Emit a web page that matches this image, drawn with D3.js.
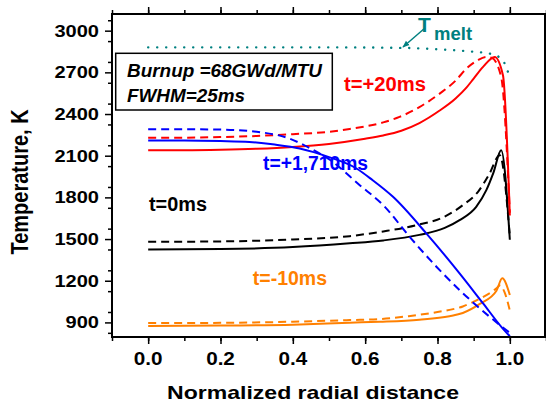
<!DOCTYPE html>
<html><head><meta charset="utf-8">
<script src="https://cdn.jsdelivr.net/npm/d3@7"></script>
<style>
html,body{margin:0;padding:0;background:#fff;}
svg{display:block;}
text{font-family:"Liberation Sans",Arial,Helvetica,sans-serif;font-weight:bold;}
</style></head>
<body>
<svg id="chart" width="546" height="403"></svg>
<script>
// ---------------- data ----------------
const xTicks = [0.0, 0.2, 0.4, 0.6, 0.8, 1.0];
const xTickLabels = ["0.0", "0.2", "0.4", "0.6", "0.8", "1.0"];
const yTicks = [900, 1200, 1500, 1800, 2100, 2400, 2700, 3000];
const yTickLabels = ["900", "1200", "1500", "1800", "2100", "2400", "2700", "3000"];

// t = +20 ms (red)
const plus20SolidR = [0, 0.1, 0.2, 0.3, 0.4, 0.5, 0.6, 0.65, 0.7, 0.75, 0.806, 0.85, 0.88, 0.9, 0.926, 0.958, 0.981, 1.0];
const plus20SolidT = [2140, 2140, 2143, 2150, 2163, 2185, 2222, 2246, 2280, 2335, 2425, 2512, 2590, 2655, 2739, 2811, 2679, 1670];
const plus20DashR = [0, 0.1, 0.2, 0.3, 0.4, 0.5, 0.557, 0.65, 0.695, 0.75, 0.806, 0.85, 0.88, 0.91, 0.935, 0.95, 0.976, 1.0];
const plus20DashT = [2230, 2230, 2234, 2242, 2255, 2272, 2292, 2340, 2379, 2450, 2547, 2640, 2727, 2785, 2811, 2805, 2667, 1690];

// t = +1,710 ms (blue)
const plus1710SolidR = [0, 0.1, 0.2, 0.28, 0.35, 0.419, 0.5, 0.576, 0.62, 0.677, 0.769, 0.861, 0.926, 0.98, 1.0];
const plus1710SolidT = [2210, 2210, 2206, 2199, 2180, 2152, 2090, 2008, 1925, 1804, 1541, 1253, 1037, 857, 800];
const plus1710DashR = [0, 0.1, 0.2, 0.3, 0.39, 0.45, 0.5, 0.585, 0.65, 0.723, 0.797, 0.861, 0.944, 0.99, 1.0];
const plus1710DashT = [2290, 2290, 2288, 2272, 2224, 2150, 2075, 1888, 1744, 1516, 1301, 1133, 941, 845, 825];

// t = 0 ms (black)
const zeroSolidR = [0, 0.2, 0.4, 0.557, 0.65, 0.75, 0.82, 0.861, 0.907, 0.935, 0.955, 0.976, 1.0];
const zeroSolidT = [1425, 1428, 1442, 1469, 1490, 1530, 1580, 1636, 1732, 1852, 1980, 2140, 1495];
const zeroDashR = [0, 0.2, 0.4, 0.557, 0.65, 0.742, 0.815, 0.87, 0.912, 0.944, 0.972, 1.0];
const zeroDashT = [1480, 1483, 1497, 1521, 1555, 1600, 1656, 1744, 1840, 1972, 2104, 1520];

// t = -10 ms (orange)
const minus10SolidR = [0, 0.2, 0.4, 0.557, 0.641, 0.75, 0.833, 0.87, 0.917, 0.963, 0.979, 1.0];
const minus10SolidT = [875, 877, 884, 898, 905, 920, 945, 968, 1033, 1128, 1217, 1097];
const minus10DashR = [0, 0.2, 0.4, 0.557, 0.641, 0.72, 0.8, 0.87, 0.92, 0.963, 0.972, 0.985, 1.0];
const minus10DashT = [895, 897, 905, 917, 924, 945, 975, 1015, 1075, 1145, 1165, 1120, 985];

// melting temperature (teal dotted)
const meltR = [0, 0.5, 0.7, 0.8, 0.9, 0.944, 0.976, 0.99, 1.0];
const meltT = [2880, 2880, 2876, 2866, 2848, 2835, 2799, 2739, 2660];

// ---------------- chart ----------------
const svg = d3.select("#chart");
const x = d3.scaleLinear().domain([-0.1, 1.1]).range([112, 546]);
const y = d3.scaleLinear().domain([795, 3120]).range([337, 14]);

const C = {red: "#ff0000", blue: "#0000ff", black: "#000000", orange: "#ff8000", teal: "#008080"};

const zip = (R, T) => R.map((r, i) => [r, T[i]]);
const line = d3.line().x(d => x(d[0])).y(d => y(d[1])).curve(d3.curveMonotoneX);

const series = [
  {R: minus10DashR, T: minus10DashT, c: C.orange, dash: "8,5"},
  {R: minus10SolidR, T: minus10SolidT, c: C.orange, dash: null},
  {R: zeroDashR, T: zeroDashT, c: C.black, dash: "8,5"},
  {R: zeroSolidR, T: zeroSolidT, c: C.black, dash: null},
  {R: plus20DashR, T: plus20DashT, c: C.red, dash: "8,5"},
  {R: plus20SolidR, T: plus20SolidT, c: C.red, dash: null},
  {R: plus1710DashR, T: plus1710DashT, c: C.blue, dash: "8,5"},
  {R: plus1710SolidR, T: plus1710SolidT, c: C.blue, dash: null}
];

const plot = svg.append("g");
plot.append("path")
  .attr("d", line(zip(meltR, meltT)))
  .attr("fill", "none").attr("stroke", C.teal).attr("stroke-width", 2.4)
  .attr("stroke-dasharray", "0.1,8.9").attr("stroke-linecap", "round");

series.forEach(s => {
  plot.append("path")
    .attr("d", line(zip(s.R, s.T)))
    .attr("fill", "none").attr("stroke", s.c).attr("stroke-width", 2)
    .attr("stroke-linejoin", "miter")
    .attr("stroke-dasharray", s.dash);
});

// ---------------- axes / frame ----------------
const x0 = x.range()[0], x1 = x.range()[1], yb = y.range()[0], yt = y.range()[1];
const xMinor = d3.range(-1, 12).map(i => +(i * 0.1).toFixed(1));
const yMinor = d3.range(825, 3120, 150);

const gB = svg.append("g").attr("transform", `translate(0,${yb})`)
  .call(d3.axisBottom(x).tickValues(xMinor).tickSize(4).tickFormat(""));
const gB2 = svg.append("g").attr("transform", `translate(0,${yb})`)
  .call(d3.axisBottom(x).tickValues(xTicks).tickSize(7).tickFormat(""));
const gT = svg.append("g").attr("transform", `translate(0,${yt})`)
  .call(d3.axisTop(x).tickValues(xMinor).tickSize(4).tickFormat(""));
const gT2 = svg.append("g").attr("transform", `translate(0,${yt})`)
  .call(d3.axisTop(x).tickValues(xTicks).tickSize(7).tickFormat(""));
const gL = svg.append("g").attr("transform", `translate(${x0},0)`)
  .call(d3.axisLeft(y).tickValues(yMinor).tickSize(4).tickFormat(""));
const gL2 = svg.append("g").attr("transform", `translate(${x0},0)`)
  .call(d3.axisLeft(y).tickValues(yTicks).tickSize(7).tickFormat(""));
const gR = svg.append("g").attr("transform", `translate(${x1 - 1},0)`)
  .call(d3.axisLeft(y).tickValues(yMinor.concat(yTicks)).tickSize(-4).tickFormat(""));

[gB, gB2, gT, gT2, gL, gL2, gR].forEach(g => {
  g.select(".domain").remove();
  g.selectAll(".tick line").attr("stroke", "#000").attr("stroke-width", 1.5);
});

svg.append("rect").attr("x", x0).attr("y", yt).attr("width", x1 - 1 - x0).attr("height", yb - yt)
  .attr("fill", "none").attr("stroke", "#000").attr("stroke-width", 2);

yTicks.forEach((v, i) => {
  svg.append("text")
    .attr("transform", `translate(99,${y(v) + 6}) scale(1.18,1)`)
    .attr("text-anchor", "end").attr("font-size", 17).attr("fill", "#000")
    .text(yTickLabels[i]);
});
xTicks.forEach((v, i) => {
  svg.append("text")
    .attr("transform", `translate(${x(v)},365) scale(1.15,1)`)
    .attr("text-anchor", "middle").attr("font-size", 18).attr("fill", "#000")
    .text(xTickLabels[i]);
});

svg.append("text")
  .attr("x", 313).attr("y", 399)
  .attr("text-anchor", "middle").attr("font-size", 18.5)
  .attr("textLength", 292).attr("lengthAdjust", "spacingAndGlyphs")
  .text("Normalized radial distance");
svg.append("text")
  .attr("transform", "translate(28,182) rotate(-90) scale(1,1.18)")
  .attr("text-anchor", "middle").attr("font-size", 20)
  .text("Temperature, K");

svg.append("rect").attr("x", 115.7).attr("y", 53.3).attr("width", 216.6).attr("height", 56.7)
  .attr("fill", "#fff").attr("stroke", "#000").attr("stroke-width", 1.5);
svg.append("text").attr("x", 127).attr("y", 76.5).attr("font-size", 17.5).attr("font-style", "italic")
  .attr("textLength", 195).attr("lengthAdjust", "spacingAndGlyphs")
  .text("Burnup =68GWd/MTU");
svg.append("text").attr("x", 127).attr("y", 101.5).attr("font-size", 17.5).attr("font-style", "italic")
  .attr("textLength", 118).attr("lengthAdjust", "spacingAndGlyphs")
  .text("FWHM=25ms");

const lab = (t, xx, yy, c, len, anchor) => {
  const e = svg.append("text").attr("x", xx).attr("y", yy).attr("font-size", 19.5).attr("fill", c)
    .attr("text-anchor", anchor || "start").text(t);
  if (len) e.attr("textLength", len).attr("lengthAdjust", "spacingAndGlyphs");
};
lab("t=+20ms", 344, 91, C.red, 82);
lab("t=+1,710ms", 263, 170, C.blue, 105);
lab("t=0ms", 149, 211, C.black, 58);
lab("t=-10ms", 327, 285, C.orange, null, "end");

svg.append("defs").append("marker").attr("id", "ah").attr("viewBox", "0 0 10 10")
  .attr("refX", 9).attr("refY", 5).attr("markerWidth", 7).attr("markerHeight", 7)
  .attr("orient", "auto").attr("markerUnits", "userSpaceOnUse")
  .append("path").attr("d", "M0,1 L10,5 L0,9 Z").attr("fill", C.teal);
svg.append("line").attr("x1", 425).attr("y1", 28).attr("x2", 403).attr("y2", 47)
  .attr("stroke", C.teal).attr("stroke-width", 1.5).attr("marker-end", "url(#ah)");
svg.append("text").attr("x", 418).attr("y", 32).attr("font-size", 21).attr("fill", C.teal).text("T");
svg.append("text").attr("x", 434).attr("y", 40).attr("font-size", 18.5).attr("fill", C.teal).text("melt");
</script>
</body></html>
